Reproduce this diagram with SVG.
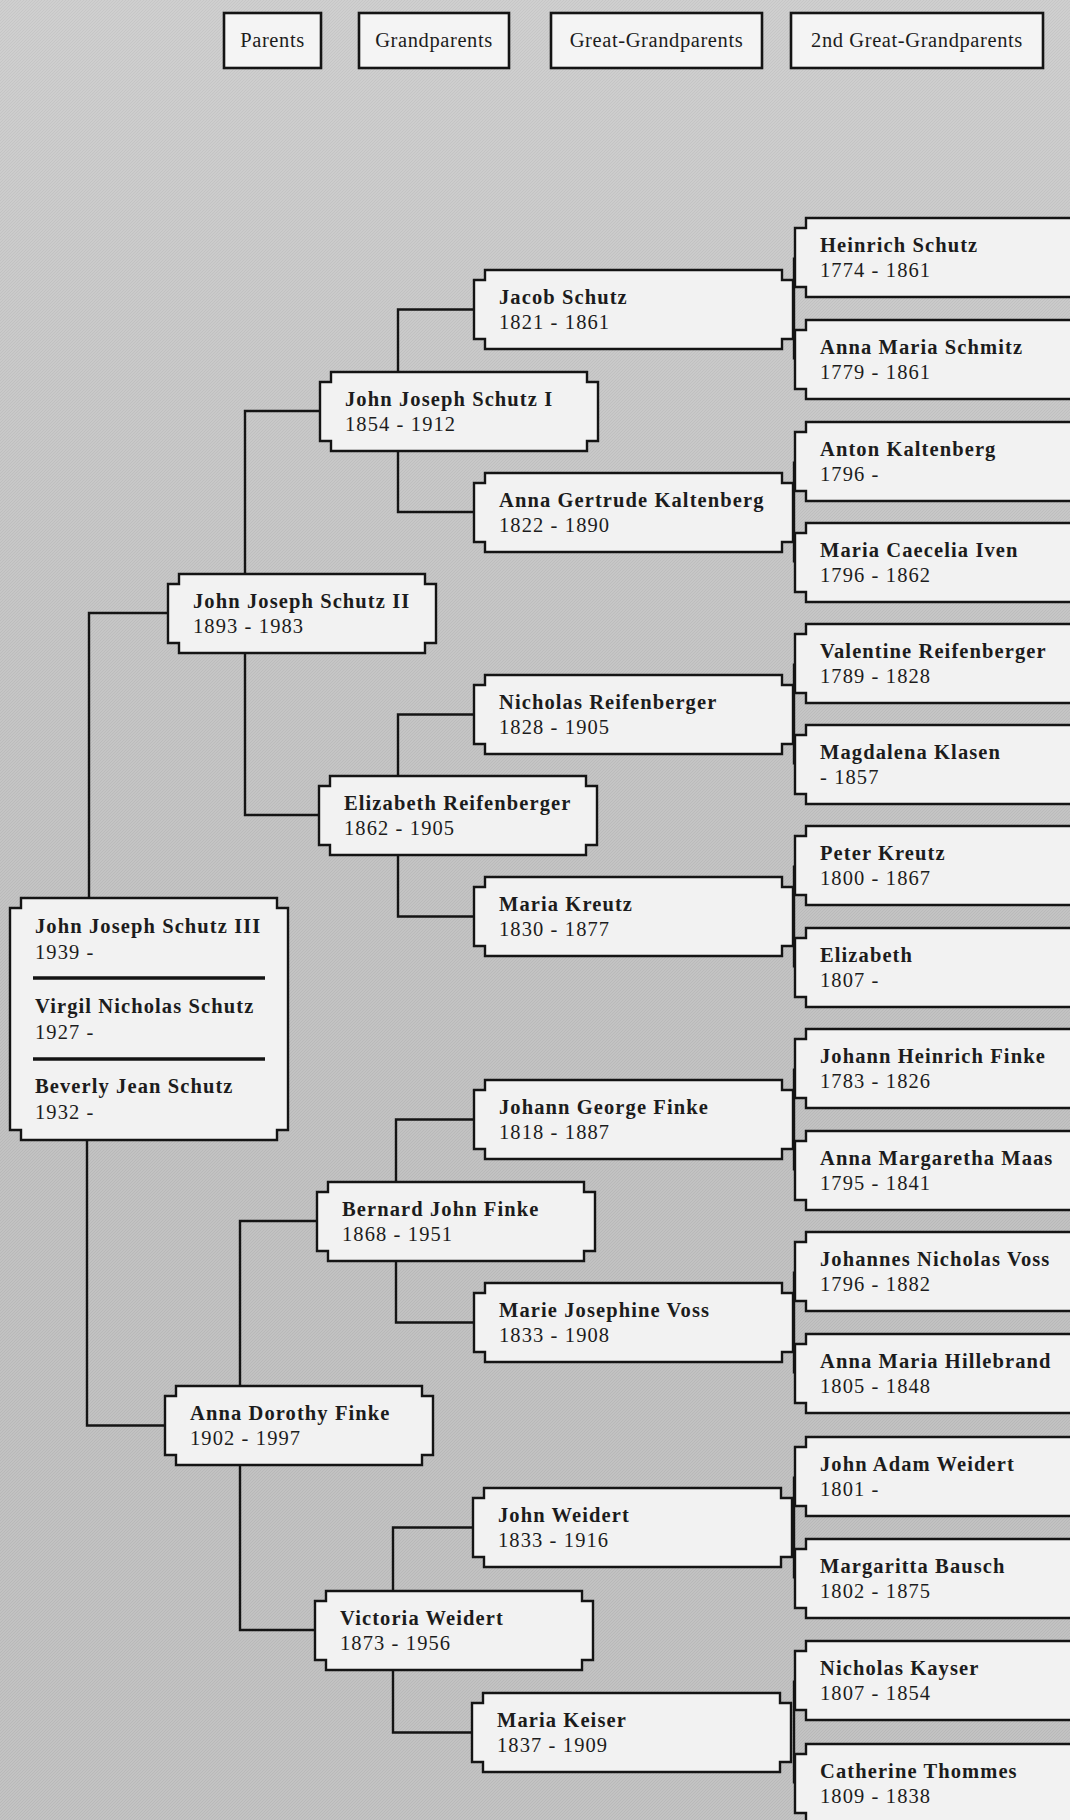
<svg xmlns="http://www.w3.org/2000/svg" xmlns:xlink="http://www.w3.org/1999/xlink" width="1070" height="1820" viewBox="0 0 1070 1820">
<style>
.box{fill:#f2f2f2;stroke:#141414;stroke-width:2.4}
.hdr{fill:#f4f4f4;stroke:#141414;stroke-width:2.6}
.nm{font-family:"Liberation Serif","Times New Roman",serif;font-weight:bold;font-size:20.5px;letter-spacing:1.1px;fill:#1c1c1c}
.dt{font-family:"Liberation Serif","Times New Roman",serif;font-size:20.5px;letter-spacing:1.1px;fill:#1c1c1c}
.ht{font-family:"Liberation Serif","Times New Roman",serif;font-size:20.5px;letter-spacing:0.6px;fill:#1c1c1c;text-anchor:middle}
.ln{fill:none;stroke:#141414;stroke-width:2.4}
.sep{stroke:#141414;stroke-width:3.6}
</style>
<defs>
<pattern id="tex" patternUnits="userSpaceOnUse" width="3" height="3">
<rect width="3" height="3" fill="#c9c9c9"/>
<path d="M-1,1 L1,-1 M0,3 L3,0 M2,4 L4,2" stroke="#bcbcbc" stroke-width="0.8"/>
</pattern>
<linearGradient id="shade" x1="0" y1="0" x2="0" y2="1">
<stop offset="0" stop-color="#ffffff" stop-opacity="0.12"/>
<stop offset="1" stop-color="#000000" stop-opacity="0.03"/>
</linearGradient>
<path id="l4" d="M11,0 H300 V79 H11 V69 H0 V10 H11 Z"/>
<path id="l3" d="M11,0 H308 V10 H319 V69 H308 V79 H11 V69 H0 V10 H11 Z"/>
<path id="l2" d="M11,0 H267 V10 H278 V69 H267 V79 H11 V69 H0 V10 H11 Z"/>
<path id="l1" d="M11,0 H257 V10 H268 V69 H257 V79 H11 V69 H0 V10 H11 Z"/>
</defs>
<rect width="1070" height="1820" fill="url(#tex)"/>
<rect width="1070" height="1820" fill="url(#shade)"/>

<g id="headers">
<g id="h-parents"><rect class="hdr" x="224" y="13" width="97" height="55"/><text class="ht" x="272.5" y="47">Parents</text></g>
<g id="h-grandparents"><rect class="hdr" x="359" y="13" width="150" height="55"/><text class="ht" x="434" y="47">Grandparents</text></g>
<g id="h-great"><rect class="hdr" x="551" y="13" width="211" height="55"/><text class="ht" x="656.5" y="47">Great-Grandparents</text></g>
<g id="h-2great"><rect class="hdr" x="791" y="13" width="252" height="55"/><text class="ht" x="917" y="47">2nd Great-Grandparents</text></g>
</g>

<g id="connectors">
<path class="ln" d="M168,613 H89 V898"/>
<path class="ln" d="M87,1140 V1425.5 H165"/>
<path class="ln" d="M320,411 H245 V815 H319"/>
<path class="ln" d="M317,1221 H240 V1630 H315"/>
<path class="ln" d="M474,309.5 H398 V512 H474"/>
<path class="ln" d="M474,714.5 H398 V916.5 H474"/>
<path class="ln" d="M474,1119.5 H396 V1322.5 H474"/>
<path class="ln" d="M474,1527.5 H393 V1732.5 H472"/>
<path class="ln" d="M794,257.5 V359.5"/>
<path class="ln" d="M794,461.5 V562.5"/>
<path class="ln" d="M794,663.5 V764.5"/>
<path class="ln" d="M794,865.5 V967.5"/>
<path class="ln" d="M794,1068.5 V1170.5"/>
<path class="ln" d="M794,1271.5 V1373.5"/>
<path class="ln" d="M794,1476.5 V1578.5"/>
<path class="ln" d="M794,1680.5 V1783.5"/>
</g>

<g id="root">
<path class="box" d="M21,898 H277 V908 H288 V1130 H277 V1140 H21 V1130 H10 V908 H21 Z"/>
<text class="nm" x="35" y="933">John Joseph Schutz III</text>
<text class="dt" x="35" y="959">1939 -</text>
<line class="sep" x1="33" y1="978" x2="265" y2="978"/>
<text class="nm" x="35" y="1013">Virgil Nicholas Schutz</text>
<text class="dt" x="35" y="1039">1927 -</text>
<line class="sep" x1="33" y1="1059" x2="265" y2="1059"/>
<text class="nm" x="35" y="1093">Beverly Jean Schutz</text>
<text class="dt" x="35" y="1119">1932 -</text>
</g>

<g id="p-jjs2"><use href="#l1" class="box" x="168" y="574"/><text class="nm" x="193" y="608">John Joseph Schutz II</text><text class="dt" x="193" y="633">1893 - 1983</text></g>
<g id="p-adf"><use href="#l1" class="box" x="165" y="1386"/><text class="nm" x="190" y="1420">Anna Dorothy Finke</text><text class="dt" x="190" y="1445">1902 - 1997</text></g>

<g id="g-jjs1"><use href="#l2" class="box" x="320" y="372"/><text class="nm" x="345" y="406">John Joseph Schutz I</text><text class="dt" x="345" y="431">1854 - 1912</text></g>
<g id="g-er"><use href="#l2" class="box" x="319" y="776"/><text class="nm" x="344" y="810">Elizabeth Reifenberger</text><text class="dt" x="344" y="835">1862 - 1905</text></g>
<g id="g-bjf"><use href="#l2" class="box" x="317" y="1182"/><text class="nm" x="342" y="1216">Bernard John Finke</text><text class="dt" x="342" y="1241">1868 - 1951</text></g>
<g id="g-vw"><use href="#l2" class="box" x="315" y="1591"/><text class="nm" x="340" y="1625">Victoria Weidert</text><text class="dt" x="340" y="1650">1873 - 1956</text></g>

<g id="gg-js"><use href="#l3" class="box" x="474" y="270"/><text class="nm" x="499" y="304">Jacob Schutz</text><text class="dt" x="499" y="329">1821 - 1861</text></g>
<g id="gg-agk"><use href="#l3" class="box" x="474" y="473"/><text class="nm" x="499" y="507">Anna Gertrude Kaltenberg</text><text class="dt" x="499" y="532">1822 - 1890</text></g>
<g id="gg-nr"><use href="#l3" class="box" x="474" y="675"/><text class="nm" x="499" y="709">Nicholas Reifenberger</text><text class="dt" x="499" y="734">1828 - 1905</text></g>
<g id="gg-mk"><use href="#l3" class="box" x="474" y="877"/><text class="nm" x="499" y="911">Maria Kreutz</text><text class="dt" x="499" y="936">1830 - 1877</text></g>
<g id="gg-jgf"><use href="#l3" class="box" x="474" y="1080"/><text class="nm" x="499" y="1114">Johann George Finke</text><text class="dt" x="499" y="1139">1818 - 1887</text></g>
<g id="gg-mjv"><use href="#l3" class="box" x="474" y="1283"/><text class="nm" x="499" y="1317">Marie Josephine Voss</text><text class="dt" x="499" y="1342">1833 - 1908</text></g>
<g id="gg-jw"><use href="#l3" class="box" x="473" y="1488"/><text class="nm" x="498" y="1522">John Weidert</text><text class="dt" x="498" y="1547">1833 - 1916</text></g>
<g id="gg-mkei"><use href="#l3" class="box" x="472" y="1693"/><text class="nm" x="497" y="1727">Maria Keiser</text><text class="dt" x="497" y="1752">1837 - 1909</text></g>

<g id="ggg-hs"><use href="#l4" class="box" x="795" y="218"/><text class="nm" x="820" y="252">Heinrich Schutz</text><text class="dt" x="820" y="277">1774 - 1861</text></g>
<g id="ggg-ams"><use href="#l4" class="box" x="795" y="320"/><text class="nm" x="820" y="354">Anna Maria Schmitz</text><text class="dt" x="820" y="379">1779 - 1861</text></g>
<g id="ggg-ak"><use href="#l4" class="box" x="795" y="422"/><text class="nm" x="820" y="456">Anton Kaltenberg</text><text class="dt" x="820" y="481">1796 -</text></g>
<g id="ggg-mci"><use href="#l4" class="box" x="795" y="523"/><text class="nm" x="820" y="557">Maria Caecelia Iven</text><text class="dt" x="820" y="582">1796 - 1862</text></g>
<g id="ggg-vr"><use href="#l4" class="box" x="795" y="624"/><text class="nm" x="820" y="658">Valentine Reifenberger</text><text class="dt" x="820" y="683">1789 - 1828</text></g>
<g id="ggg-mkl"><use href="#l4" class="box" x="795" y="725"/><text class="nm" x="820" y="759">Magdalena Klasen</text><text class="dt" x="820" y="784">- 1857</text></g>
<g id="ggg-pk"><use href="#l4" class="box" x="795" y="826"/><text class="nm" x="820" y="860">Peter Kreutz</text><text class="dt" x="820" y="885">1800 - 1867</text></g>
<g id="ggg-el"><use href="#l4" class="box" x="795" y="928"/><text class="nm" x="820" y="962">Elizabeth</text><text class="dt" x="820" y="987">1807 -</text></g>
<g id="ggg-jhf"><use href="#l4" class="box" x="795" y="1029"/><text class="nm" x="820" y="1063">Johann Heinrich Finke</text><text class="dt" x="820" y="1088">1783 - 1826</text></g>
<g id="ggg-amm"><use href="#l4" class="box" x="795" y="1131"/><text class="nm" x="820" y="1165">Anna Margaretha Maas</text><text class="dt" x="820" y="1190">1795 - 1841</text></g>
<g id="ggg-jnv"><use href="#l4" class="box" x="795" y="1232"/><text class="nm" x="820" y="1266">Johannes Nicholas Voss</text><text class="dt" x="820" y="1291">1796 - 1882</text></g>
<g id="ggg-amh"><use href="#l4" class="box" x="795" y="1334"/><text class="nm" x="820" y="1368">Anna Maria Hillebrand</text><text class="dt" x="820" y="1393">1805 - 1848</text></g>
<g id="ggg-jaw"><use href="#l4" class="box" x="795" y="1437"/><text class="nm" x="820" y="1471">John Adam Weidert</text><text class="dt" x="820" y="1496">1801 -</text></g>
<g id="ggg-mb"><use href="#l4" class="box" x="795" y="1539"/><text class="nm" x="820" y="1573">Margaritta Bausch</text><text class="dt" x="820" y="1598">1802 - 1875</text></g>
<g id="ggg-nk"><use href="#l4" class="box" x="795" y="1641"/><text class="nm" x="820" y="1675">Nicholas Kayser</text><text class="dt" x="820" y="1700">1807 - 1854</text></g>
<g id="ggg-ct"><use href="#l4" class="box" x="795" y="1744"/><text class="nm" x="820" y="1778">Catherine Thommes</text><text class="dt" x="820" y="1803">1809 - 1838</text></g>
</svg>
